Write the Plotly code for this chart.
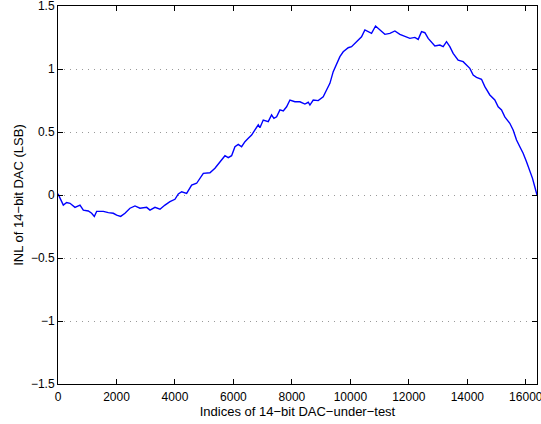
import plotly.graph_objects as go

dac_index = [0, 182, 296, 410, 581, 752, 866, 1037, 1151, 1242, 1322, 1550, 1721, 1892,
             2006, 2143, 2291, 2462, 2633, 2804, 3032, 3146, 3317, 3488, 3659, 3829,
             4000, 4115, 4229, 4400, 4571, 4742, 4970, 5197, 5368, 5539, 5596, 5710,
             5823, 5938, 6052, 6166, 6280, 6394, 6508, 6622, 6736, 6850, 6906, 7020,
             7191, 7305, 7385, 7477, 7591, 7705, 7819, 7933, 8103, 8274, 8445, 8559,
             8616, 8730, 8900, 9071, 9185, 9300, 9413, 9527, 9642, 9755, 9926, 10040,
             10155, 10268, 10382, 10496, 10610, 10724, 10861, 11010, 11180, 11351,
             11522, 11693, 11864, 12035, 12206, 12320, 12434, 12548, 12661, 12776,
             12890, 13060, 13174, 13288, 13402, 13515, 13686, 13857, 13971, 14086,
             14200, 14314, 14485, 14599, 14770, 14940, 15055, 15170, 15282, 15453,
             15567, 15683, 15796, 15909, 16024, 16137, 16229, 16383]
inl_lsb = [0.01, -0.08, -0.06, -0.066, -0.098, -0.08, -0.12, -0.127, -0.145, -0.17,
           -0.13, -0.13, -0.14, -0.145, -0.16, -0.17, -0.145, -0.105, -0.087, -0.105,
           -0.098, -0.12, -0.098, -0.113, -0.08, -0.053, -0.034, 0.008, 0.026, 0.013,
           0.079, 0.093, 0.172, 0.177, 0.212, 0.265, 0.286, 0.312, 0.296, 0.312,
           0.383, 0.402, 0.383, 0.423, 0.45, 0.476, 0.516, 0.556, 0.534, 0.595,
           0.582, 0.635, 0.608, 0.621, 0.675, 0.667, 0.70, 0.754, 0.74, 0.74, 0.722,
           0.736, 0.714, 0.754, 0.749, 0.78, 0.833, 0.886, 0.979, 1.045, 1.098,
           1.137, 1.169, 1.177, 1.204, 1.23, 1.256, 1.31, 1.296, 1.283, 1.341, 1.31,
           1.275, 1.283, 1.302, 1.275, 1.256, 1.243, 1.251, 1.235, 1.296, 1.288,
           1.243, 1.217, 1.183, 1.19, 1.177, 1.217, 1.177, 1.124, 1.071, 1.058,
           1.032, 1.005, 0.952, 0.934, 0.918, 0.86, 0.794, 0.754, 0.70, 0.675, 0.62,
           0.569, 0.516, 0.437, 0.383, 0.331, 0.264, 0.185, 0.132, 0.0]

x_ticks = [0, 2000, 4000, 6000, 8000, 10000, 12000, 14000, 16000]
y_ticks = [-1.5, -1, -0.5, 0, 0.5, 1, 1.5]

fig = go.Figure()
fig.add_trace(go.Scatter(x=dac_index, y=inl_lsb, mode="lines",
                         line=dict(color="#0000ff", width=1.4), showlegend=False))

tick_font = dict(family="Liberation Sans, Arial, Helvetica, sans-serif", size=12, color="black")
title_font = dict(family="Liberation Sans, Arial, Helvetica, sans-serif", size=13, color="black")
fig.update_layout(
    width=541, height=424,
    margin=dict(l=58, r=4, t=6, b=40, autoexpand=False),
    paper_bgcolor="white", plot_bgcolor="white",
    font=tick_font,
    xaxis=dict(range=[0, 16383], tickvals=x_ticks, ticktext=[str(v) for v in x_ticks],
               showline=True, linecolor="black", linewidth=1, mirror="ticks",
               ticks="inside", ticklen=5, tickcolor="black", showgrid=False,
               automargin=False, zeroline=False, tickfont=tick_font,
               ticklabeloverflow="allow", ticklabelstandoff=2,
               title=dict(text="Indices of 14\u2212bit DAC\u2212under\u2212test",
                          standoff=0, font=title_font)),
    yaxis=dict(range=[-1.5, 1.5], tickvals=y_ticks,
               ticktext=["\u22121.5", "\u22121", "\u22120.5", "0", "0.5", "1", "1.5"],
               showline=True, linecolor="black", linewidth=1, mirror="ticks",
               ticks="inside", ticklen=5, tickcolor="black",
               showgrid=True, gridcolor="#999999", griddash="1px,5px", gridwidth=1,
               automargin=False, zeroline=False, tickfont=tick_font,
               ticklabeloverflow="allow",
               title=dict(text="INL of 14\u2212bit DAC (LSB)",
                          standoff=4, font=title_font)),
)
fig.write_html("out.html", config={"displayModeBar": False},
               post_script="document.body.style.margin='0';document.body.style.overflow='hidden';")
